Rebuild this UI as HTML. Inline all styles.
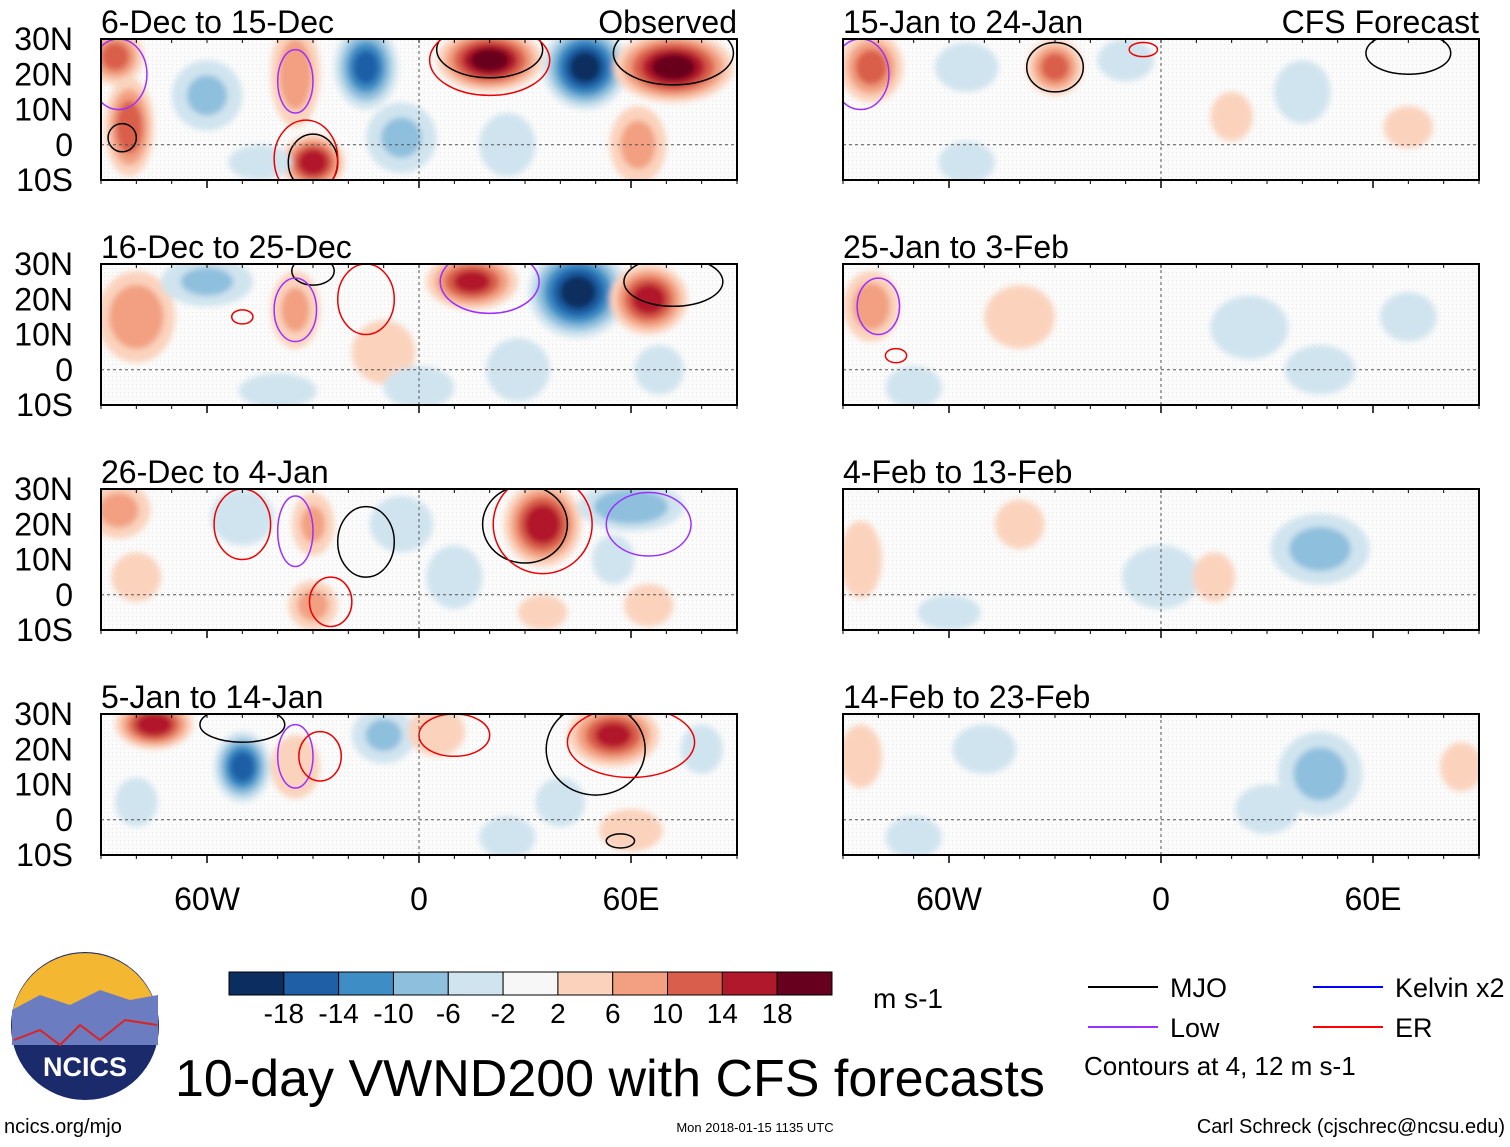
<!DOCTYPE html>
<html><head><meta charset="utf-8">
<style>
body{margin:0;background:#fff;font-family:"Liberation Sans",sans-serif;}
svg text{font-family:"Liberation Sans",sans-serif;}
</style></head>
<body>
<svg id="fig" width="1510" height="1142" viewBox="0 0 1510 1142" xmlns="http://www.w3.org/2000/svg">
<defs>
<pattern id="stip" width="4" height="4" patternUnits="userSpaceOnUse"><rect width="4" height="4" fill="#fbfbfb"/><rect width="1" height="1" fill="#e6e6e6"/></pattern>
<filter id="soft"><feGaussianBlur stdDeviation="3"/></filter>
</defs>
<g id="panels"></g>
<g id="bottom"></g>
</svg>
<script>
const titles=["6-Dec to 15-Dec","16-Dec to 25-Dec","26-Dec to 4-Jan","5-Jan to 14-Jan","15-Jan to 24-Jan","25-Jan to 3-Feb","4-Feb to 13-Feb","14-Feb to 23-Feb"];
const latTicks=[30,20,10,0,-10];
const latLabels=["30N","20N","10N","0","10S"];
const lonTicks=[-60,0,60];
const lonLabels=["60W","0","60E"];
const levels=[-18,-14,-10,-6,-2,2,6,10,14,18];
const colors=["#0b2d5f","#1f5fa6","#3e8dc4","#8ebfdd","#d0e4ef","#f7f7f7","#fbd3bd","#f2a081","#d95f4c","#b2182b","#67001f"];
// blobs: [lon, lat, value, rxDeg, ryDeg]
const blobs0=[[-82,5,13,7,14],[-86,25,12,8,8],[-35,20,9,7,15],[-30,-5,17,9,8],[-60,14,-7,10,10],[-15,22,-15,9,12],[20,24,19,15,9],[47,22,-19,12,12],[72,22,19,17,10],[-5,2,-7,10,10],[25,0,-6,8,9],[62,0,8,8,11],[-45,-5,-4,9,5]];
const blobs1=[[-80,15,10,11,13],[-60,25,-7,13,7],[-35,17,7,7,11],[-10,5,5,9,9],[15,25,15,13,8],[45,22,-19,14,13],[65,20,16,11,10],[28,0,-6,9,9],[-40,-6,-4,11,5],[0,-5,-5,10,6],[68,0,-4,7,7]];
const blobs2=[[-85,24,8,9,8],[-50,22,-6,9,8],[-30,20,7,6,9],[-5,20,-6,9,8],[-30,-3,8,7,7],[35,20,17,11,12],[60,25,-10,15,7],[55,10,-6,6,7],[10,5,-4,8,9],[65,-3,5,7,6],[-80,5,4,7,7],[35,-5,4,7,5]];
const blobs3=[[-75,27,17,11,7],[-50,15,-16,8,10],[-80,5,-6,6,7],[-35,15,6,7,9],[-10,24,-7,9,8],[5,25,6,8,7],[55,24,15,13,9],[40,5,-5,7,7],[60,-3,6,9,6],[25,-5,-4,8,6],[80,20,-5,6,7]];
const blobs4=[[-82,22,12,9,10],[-30,22,12,8,8],[-55,22,-6,9,7],[-10,24,-4,8,6],[40,15,-4,8,9],[20,8,3,6,7],[-55,-5,-4,8,6],[70,5,4,7,6]];
const blobs5=[[-82,18,9,8,10],[-40,15,4,10,9],[25,12,-4,11,9],[45,0,-4,10,7],[-70,-5,-3,8,6],[70,15,-3,8,7]];
const blobs6=[[-85,10,5,6,11],[-40,20,3,7,7],[45,13,-8,14,10],[0,5,-3,11,9],[15,5,3,6,7],[-60,-5,-3,9,5]];
const blobs7=[[-85,18,5,6,9],[-50,20,-3,9,7],[45,13,-8,12,12],[30,3,-3,9,7],[85,15,4,6,7],[-70,-5,-3,8,6]];
const allBlobs=[blobs0,blobs1,blobs2,blobs3,blobs4,blobs5,blobs6,blobs7];
// contour outlines: [panel, lon, lat, rxDeg, ryDeg, type]
const contours=[[0,-84,2,4,4,'mjo'],[0,-30,-5,7,8,'mjo'],[0,-32,-4,9,11,'er'],[0,20,27,15,8,'mjo'],[0,20,24,17,10,'er'],[0,72,26,17,9,'mjo'],[0,-35,18,5,9,'low'],[0,-85,20,8,10,'low'],
[1,-30,28,6,4,'mjo'],[1,-35,17,6,9,'low'],[1,-15,20,8,10,'er'],[1,20,25,14,9,'low'],[1,72,25,14,7,'mjo'],[1,-50,15,3,2,'er'],
[2,-15,15,8,10,'mjo'],[2,-35,18,5,10,'low'],[2,-50,20,8,10,'er'],[2,30,20,12,11,'mjo'],[2,35,20,14,14,'er'],[2,65,20,12,9,'low'],[2,-25,-2,6,7,'er'],
[3,-50,27,12,5,'mjo'],[3,-35,18,5,9,'low'],[3,-28,18,6,7,'er'],[3,10,24,10,6,'er'],[3,50,20,14,13,'mjo'],[3,60,22,18,10,'er'],[3,57,-6,4,2,'mjo'],
[4,-30,22,8,7,'mjo'],[4,-85,20,8,10,'low'],[4,70,26,12,6,'mjo'],[4,-5,27,4,2,'er'],
[5,-80,18,6,8,'low'],[5,-75,4,3,2,'er']];
const ctColor={mjo:'#000',low:'#9b30ff',er:'#e00',kelvin:'#00f'};
const NS="http://www.w3.org/2000/svg";
function mk(tag,attrs,parent){const e=document.createElementNS(NS,tag);for(const k in attrs)e.setAttribute(k,attrs[k]);if(parent)parent.appendChild(e);return e;}
function colorFor(v){let i=0;while(i<levels.length&&v>levels[i])i++;return colors[i];}
const colX=[101,843],rowY=[39,264,489,714],PW=636,PH=141;
const gp=document.getElementById('panels');
for(let p=0;p<8;p++){
  const col=p<4?0:1,row=p%4;const x0=colX[col],y0=rowY[row];
  const xs=lon=>x0+(lon+90)/180*PW;const ys=lat=>y0+(30-lat)/40*PH;
  const g=mk('g',{},gp);
  
  
  const cid='clip'+p;const cp=mk('clipPath',{id:cid},g);mk('rect',{x:x0,y:y0,width:PW,height:PH},cp);
  mk('rect',{x:x0,y:y0,width:PW,height:PH,fill:'url(#stip)'},g);
  const fg=mk('g',{'clip-path':'url(#'+cid+')'},g);
  const fg2=mk('g',{filter:'url(#soft)'},fg);
  allBlobs[p].forEach(b=>{
    const [lon,lat,v,rx,ry]=b;const a=Math.abs(v),s=Math.sign(v);
    for(let l=2;l<a;l+=4){const f=1-(l-2)/a*0.75;
      const e=mk('ellipse',{cx:xs(lon),cy:ys(lat),rx:rx*f*PW/180,ry:ry*f*PH/40,fill:colorFor(s*(l+0.1))},fg2);
      
      }
  });
  contours.filter(c=>c[0]===p).forEach(c=>{
    const e=mk('ellipse',{cx:xs(c[1]),cy:ys(c[2]),rx:c[3]*PW/180,ry:c[4]*PH/40,fill:'none',stroke:ctColor[c[5]],'stroke-width':1.5},fg);
    
    
  });
  mk('line',{x1:x0,x2:x0+PW,y1:ys(0),y2:ys(0),stroke:'#555','stroke-dasharray':'3,3','stroke-width':1},fg);
  mk('line',{x1:xs(0),x2:xs(0),y1:y0,y2:y0+PH,stroke:'#555','stroke-dasharray':'3,3','stroke-width':1},fg);
  mk('rect',{x:x0,y:y0,width:PW,height:PH,fill:'none',stroke:'#000','stroke-width':2},g);
  for(let lon=-90;lon<=90;lon+=10){mk('line',{x1:xs(lon),x2:xs(lon),y1:y0,y2:y0+4,stroke:'#000'},g);mk('line',{x1:xs(lon),x2:xs(lon),y1:y0+PH,y2:y0+PH+4,stroke:'#000'},g);}
  lonTicks.forEach(l=>mk('line',{x1:xs(l),x2:xs(l),y1:y0+PH,y2:y0+PH+8,stroke:'#000','stroke-width':1.5},g));
  const t=mk('text',{x:x0,y:y0-6,'font-size':32,fill:'#000'},g);t.textContent=titles[p];
  
  
  if(p==0||p==4){const r=mk('text',{x:x0+PW,y:y0-6,'font-size':32,'text-anchor':'end'},g);r.textContent=p==0?'Observed':'CFS Forecast';}
  if(col==0){latTicks.forEach((lt,i)=>{const tt=mk('text',{x:73,y:ys(lt)+11,'font-size':32,'text-anchor':'end'},g);tt.textContent=latLabels[i];
    
    });}
  if(row==3){lonTicks.forEach((l,i)=>{const tt=mk('text',{x:xs(l),y:910,'font-size':32,'text-anchor':'middle'},g);tt.textContent=lonLabels[i];
    
    });}
}
const gb=document.getElementById('bottom');
const cbx=229,cbw=603/11;
colors.forEach((c,i)=>{const r=mk('rect',{x:cbx+i*cbw,y:972,width:cbw,height:23,fill:c,stroke:'#000','stroke-width':1},gb);
  
  });
levels.forEach((l,i)=>{const t=mk('text',{x:cbx+(i+1)*cbw,y:1023,'font-size':28,'text-anchor':'middle'},gb);t.textContent=l;
  
  });
let t=mk('text',{x:873,y:1008,'font-size':28},gb);t.textContent='m s-1';
t=mk('text',{x:175,y:1096,'font-size':52},gb);t.textContent='10-day VWND200 with CFS forecasts';


const lg=mk('g',{},gb);


mk('circle',{cx:85,cy:1026,r:74,fill:'#1b2a6b'},lg);
mk('path',{d:'M13,1010 A74,74 0 0 1 157,1010 Z',fill:'#f4b731'},lg);
mk('path',{d:'M12,1010 L40,995 L70,1005 L100,990 L130,1000 L158,995 L158,1045 L12,1045 Z',fill:'#6c7cc0'},lg);
mk('path',{d:'M14,1040 L40,1030 L60,1045 L80,1025 L100,1040 L125,1020 L157,1025',fill:'none',stroke:'#d22',"stroke-width":2},lg);
t=mk('text',{x:85,y:1076,'font-size':27,'font-weight':'bold',fill:'#fff','text-anchor':'middle'},lg);t.textContent='NCICS';
const leg=[[1088,987,'#000','MJO'],[1088,1027,'#9b30ff','Low'],[1313,987,'#00f','Kelvin x2'],[1313,1027,'#f00','ER']];
leg.forEach(e=>{const g=mk('g',{},gb);
  
  
  mk('line',{x1:e[0],x2:e[0]+70,y1:e[1],y2:e[1],stroke:e[2],'stroke-width':2},g);
  const tt=mk('text',{x:e[0]+82,y:e[1]+10,'font-size':27},g);tt.textContent=e[3];});
t=mk('text',{x:1084,y:1075,'font-size':26},gb);t.textContent='Contours at 4, 12 m s-1';
t=mk('text',{x:4,y:1133,'font-size':20},gb);t.textContent='ncics.org/mjo';
t=mk('text',{x:755,y:1132,'font-size':13,'text-anchor':'middle'},gb);t.textContent='Mon 2018-01-15 1135 UTC';
t=mk('text',{x:1505,y:1133,'font-size':20,'text-anchor':'end'},gb);t.textContent='Carl Schreck (cjschrec@ncsu.edu)';
</script>
</body></html>
